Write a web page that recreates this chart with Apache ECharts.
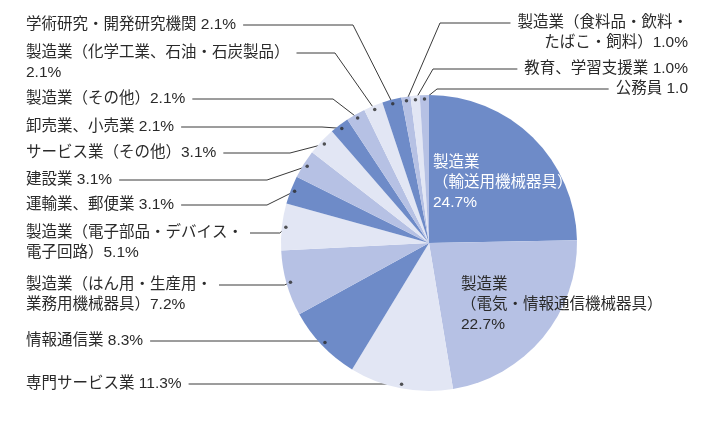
<!DOCTYPE html>
<html><head><meta charset="utf-8">
<script src="https://cdn.jsdelivr.net/npm/echarts@6/dist/echarts.min.js"></script>
<style>html,body{margin:0;padding:0;background:#fff}#c{width:720px;height:434px}</style>
</head><body><div id="c"></div>
<script>
// ---- data ----
const categories = [
  '製造業\n（輸送用機械器具）',
  '製造業\n（電気・情報通信機械器具）',
  '専門サービス業',
  '情報通信業',
  '製造業（はん用・生産用・\n業務用機械器具）',
  '製造業（電子部品・デバイス・\n電子回路）',
  '運輸業、郵便業',
  '建設業',
  'サービス業（その他）',
  '卸売業、小売業',
  '製造業（その他）',
  '製造業（化学工業、石油・石炭製品）',
  '学術研究・開発研究機関',
  '製造業（食料品・飲料・\nたばこ・飼料）',
  '教育、学習支援業',
  '公務員'
];
const values = [24.7, 22.7, 11.3, 8.3, 7.2, 5.1, 3.1, 3.1, 3.1, 2.1, 2.1, 2.1, 2.1, 1.0, 1.0, 1.0];
const units = ['%','%','%','%','%','%','%','%','%','%','%','%','%','%','%',''];
const separators = ['\n','\n',' ',' ','','',' ',' ','',' ','','\n',' ','',' ',' '];

// ---- styles / layout ----
const DARK = '#6e8bc8', MID = '#b6c1e4', LIGHT = '#e2e6f4';
const sliceColors = [DARK, MID, LIGHT, DARK, MID, LIGHT, DARK, MID, LIGHT, DARK, MID, LIGHT, DARK, MID, LIGHT, MID];
const CX = 429, CY = 243, R = 148, DOT_R = 144;
const LINE_H = 20;
const FONT = '"Liberation Sans", "Noto Sans CJK JP", sans-serif';
const labelSide = ['in','in','left','left','left','left','left','left','left','left','left','left','left','right','right','right'];
const labelFirstLineY = [163, 285, 384, 341, 285, 233, 205, 180, 153, 127, 99, 53, 25, 23, 69, 89];
const labelX = [433, 461, 26, 26, 26, 26, 26, 26, 26, 26, 26, 26, 26, 688, 688, 688];
const bendX = [null, null, null, null, null, null, 267, 267, 290, 322, 333, 335, 353, 440, 433, 437];
const innerColors = ['#ffffff', '#2a2a2a'];

const total = values.reduce((a, b) => a + b, 0);
const mids = [];
let acc = 0;
values.forEach(v => { mids.push(acc + v / 2); acc += v; });

function dotPoint(i) {
  const a = mids[i] / total * 2 * Math.PI;
  return [CX + DOT_R * Math.sin(a), CY - DOT_R * Math.cos(a)];
}

const pieData = categories.map((name, i) => {
  const item = { name: name, value: values[i], itemStyle: { color: sliceColors[i] } };
  if (labelSide[i] === 'in') {
    item.label = { position: 'inside', color: innerColors[i] };
    item.labelLine = { show: false };
  }
  return item;
});

const dotData = [];
labelSide.forEach((s, i) => { if (s !== 'in') dotData.push([DOT_R, mids[i]]); });

const chart = echarts.init(document.getElementById('c'), null, { renderer: 'canvas' });
chart.setOption({
  animation: false,
  backgroundColor: '#ffffff',
  polar: { center: [CX, CY], radius: R },
  angleAxis: {
    type: 'value', min: 0, max: total, startAngle: 90, clockwise: true,
    axisLine: { show: false }, axisTick: { show: false }, axisLabel: { show: false }, splitLine: { show: false }
  },
  radiusAxis: {
    type: 'value', min: 0, max: R,
    axisLine: { show: false }, axisTick: { show: false }, axisLabel: { show: false }, splitLine: { show: false }
  },
  series: [
    {
      type: 'pie',
      center: [CX, CY],
      radius: R,
      startAngle: 90,
      clockwise: true,
      avoidLabelOverlap: false,
      emphasis: { disabled: true },
      itemStyle: { borderWidth: 0 },
      label: {
        show: true,
        position: 'outside',
        fontSize: 15.5,
        lineHeight: LINE_H,
        fontFamily: FONT,
        color: '#2a2a2a',
        formatter: p => categories[p.dataIndex] + separators[p.dataIndex] + values[p.dataIndex].toFixed(1) + units[p.dataIndex]
      },
      labelLine: { show: true, smooth: false, lineStyle: { color: '#3a3a3a', width: 1 } },
      labelLayout: function (p) {
        const i = p.dataIndex;
        const side = labelSide[i];
        const y0 = labelFirstLineY[i];
        const top = y0 - LINE_H / 2;
        if (side === 'in') {
          return { x: labelX[i], y: top, align: 'left', verticalAlign: 'top' };
        }
        const w = p.labelRect.width;
        const d = dotPoint(i);
        const start = side === 'left' ? [labelX[i] + w + 7, y0] : [labelX[i] - w - 7, y0];
        const bend = bendX[i] != null ? [bendX[i], y0] : [d[0] - 6, y0];
        return {
          x: labelX[i], y: top,
          align: side === 'left' ? 'left' : 'right',
          verticalAlign: 'top',
          labelLinePoints: [d, bend, start]
        };
      },
      data: pieData
    },
    {
      type: 'scatter',
      coordinateSystem: 'polar',
      symbol: 'circle',
      symbolSize: 3.5,
      silent: true,
      itemStyle: { color: '#2a2a2a' },
      data: dotData,
      z: 5
    }
  ]
});
</script>
</body></html>
